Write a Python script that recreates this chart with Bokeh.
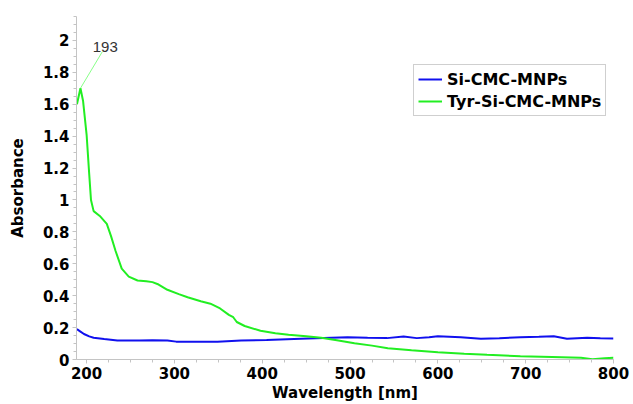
from bokeh.plotting import figure
from bokeh.models import (SingleIntervalTicker, CustomJSTickFormatter, Legend, LegendItem,
                          Label, Range1d)
from bokeh.embed import file_html
from bokeh.resources import INLINE

# --- data ---
wl_blue = [189, 193, 197, 203, 208, 220, 235, 260, 275, 292, 302, 325, 349, 376, 405, 444,
           470, 497, 520, 542, 561, 576, 590, 600, 626, 649, 670, 694, 715, 732, 747, 770, 785, 800]
abs_blue = [0.19, 0.175, 0.16, 0.145, 0.136, 0.128, 0.119, 0.119, 0.121, 0.119, 0.112, 0.111,
            0.111, 0.119, 0.123, 0.13, 0.135, 0.14, 0.136, 0.134, 0.144, 0.134, 0.14, 0.146,
            0.14, 0.13, 0.133, 0.14, 0.142, 0.146, 0.13, 0.136, 0.133, 0.132]

wl_green = [189, 193, 196, 200, 203, 205, 208, 215, 223, 228, 233, 240, 248, 258, 268, 275, 282,
            292, 305, 315, 330, 341, 352, 362, 367, 371, 380, 398, 415, 430, 450, 467, 485, 505,
            525, 543, 570, 600, 630, 656, 694, 730, 763, 776, 790, 800]
abs_green = [1.60, 1.70, 1.62, 1.41, 1.16, 1.00, 0.93, 0.90, 0.85, 0.77, 0.68, 0.57, 0.52, 0.495,
             0.49, 0.485, 0.47, 0.437, 0.41, 0.39, 0.365, 0.35, 0.32, 0.28, 0.265, 0.235, 0.21,
             0.18, 0.165, 0.155, 0.145, 0.136, 0.12, 0.102, 0.087, 0.071, 0.058, 0.046, 0.036,
             0.029, 0.021, 0.016, 0.011, 0.002, 0.008, 0.011]

series_names = ["Si-CMC-MNPs", "Tyr-Si-CMC-MNPs"]
peak_wl = 193
peak_abs = 1.70
peak_label = "193"
x_title = "Wavelength [nm]"
y_title = "Absorbance"

p = figure(width=633, height=404, output_backend="svg", toolbar_location=None,
           x_range=Range1d(188.5, 800), y_range=Range1d(0, 2.15),
           min_border_left=76, min_border_right=20, min_border_top=16, min_border_bottom=45)
p.outline_line_color = None
p.grid.visible = False
p.background_fill_color = "white"

FONT = "DejaVu Sans"
AX = "#c4c4c4"

p.xaxis.ticker = SingleIntervalTicker(interval=100, num_minor_ticks=4)
p.yaxis.ticker = SingleIntervalTicker(interval=0.2, num_minor_ticks=4)
p.yaxis.formatter = CustomJSTickFormatter(code="return String(Number(tick.toFixed(2)));")

for ax in (p.xaxis[0], p.yaxis[0]):
    ax.axis_line_color = AX
    ax.major_tick_line_color = AX
    ax.minor_tick_line_color = AX
    ax.major_tick_in = 0
    ax.major_tick_out = 4
    ax.minor_tick_in = 0
    ax.minor_tick_out = 3
    ax.major_label_text_font = FONT
    ax.major_label_text_font_style = "bold"
    ax.major_label_text_font_size = "15px"
    ax.major_label_text_color = "black"
    ax.major_label_standoff = 3
    ax.axis_label_text_font = FONT
    ax.axis_label_text_font_style = "bold"
    ax.axis_label_text_font_size = "15px"
    ax.axis_label_text_color = "black"

p.yaxis.axis_label = y_title
p.yaxis.axis_label_standoff = 13
p.xaxis.axis_label = x_title
p.xaxis.axis_label_standoff = 2

r_b = p.line(wl_blue, abs_blue, line_color="#1010ee", line_width=2)
r_g = p.line(wl_green, abs_green, line_color="#22ee22", line_width=2)

# peak annotation
p.segment(x0=[peak_wl], y0=[peak_abs], x1=[218], y1=[1.93], line_color="#88ff88", line_width=1)
p.add_layout(Label(x=207, y=1.96, text=peak_label, text_font="Liberation Sans",
                   text_font_size="15px", text_color="#333333", text_baseline="alphabetic"))

legend = Legend(items=[LegendItem(label=series_names[0], renderers=[r_b]),
                       LegendItem(label=series_names[1], renderers=[r_g])],
                location=(337, 243))
legend.label_text_font = FONT
legend.label_text_font_style = "bold"
legend.label_text_font_size = "16px"
legend.label_text_color = "black"
legend.label_height = 20
legend.border_line_color = "#a0a0a0"
legend.border_line_width = 1
legend.glyph_width = 24
legend.label_standoff = 5
legend.padding = 4
legend.spacing = 2
legend.margin = 0
legend.background_fill_alpha = 1
p.add_layout(legend)

open("out.html", "w").write(file_html(p, INLINE))
